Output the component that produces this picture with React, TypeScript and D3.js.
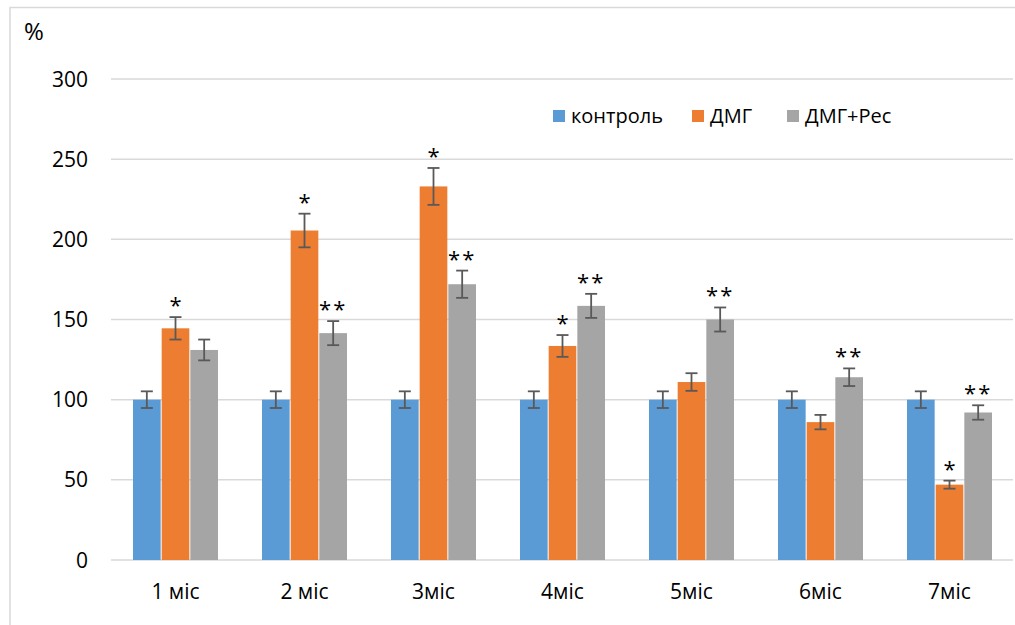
import * as d3 from 'd3';

const categories = ['1 міс', '2 міс', '3міс', '4міс', '5міс', '6міс', '7міс'];
const seriesNames = ['контроль', 'ДМГ', 'ДМГ+Рес'];
const colors = ['#5b9bd5', '#ed7d31', '#a5a5a5'];

// values per series, one per month
const control = [100, 100, 100, 100, 100, 100, 100];
const dmg = [144.5, 205.5, 233, 133.5, 111, 86, 47];
const dmgRes = [131, 141.5, 172, 158.5, 150, 114, 92];

// error half-widths
const controlErr = [5.2, 5.2, 5.2, 5.2, 5.2, 5.2, 5.2];
const dmgErr = [7, 10.5, 11.5, 6.8, 5.5, 4.5, 2.5];
const dmgResErr = [6.5, 7.5, 8.5, 7.5, 7.5, 5.5, 4.5];

// significance marks
const dmgStars = ['*', '*', '*', '*', '', '', '*'];
const dmgResStars = ['', '**', '**', '**', '**', '**', '**'];

const yTicks = [0, 50, 100, 150, 200, 250, 300];

const W = 1015;
const H = 625;
const margin = { left: 111, right: 1, top: 79, bottom: 65 };
const font = "'Open Sans', 'Liberation Sans', sans-serif";

export default function App() {
	const x0 = d3
		.scaleBand<string>()
		.domain(categories)
		.range([margin.left, W - margin.right])
		.paddingInner(1 / 3)
		.paddingOuter(1 / 6);
	const x1 = d3.scaleBand<number>().domain([0, 1, 2]).range([0, x0.bandwidth()]);
	const y = d3.scaleLinear().domain([0, 300]).range([H - margin.bottom, margin.top]);

	const values = [control, dmg, dmgRes];
	const errs = [controlErr, dmgErr, dmgResErr];
	const stars = [null, dmgStars, dmgResStars];

	return (
		<svg
			width={W}
			height={H}
			style={{ position: 'absolute', left: 0, top: 0, background: '#fff' }}
			fontFamily={font}
		>
			{/* chart frame */}
			<rect x={10} y={7.5} width={W + 10} height={H + 10} fill="none" stroke="#d9d9d9" strokeWidth={1.5} />

			{yTicks.map((t) => (
				<g key={t}>
					<line
						x1={margin.left}
						x2={W - 2}
						y1={y(t)}
						y2={y(t)}
						stroke="#d9d9d9"
						strokeWidth={1.5}
					/>
					<text x={88} y={y(t)} dy="0.36em" textAnchor="end" fontSize={21} fill="#000">
						{t}
					</text>
				</g>
			))}

			<text x={24} y={40} fontSize={24} fill="#000">
				%
			</text>

			{categories.map((c, i) => (
				<g key={c} transform={`translate(${x0(c)},0)`}>
					{values.map((vals, s) => {
						const bx = x1(s)!;
						const bw = x1.bandwidth();
						const cx = bx + bw / 2;
						const v = vals[i];
						const e = errs[s][i];
						const star = stars[s] ? stars[s]![i] : '';
						return (
							<g key={s}>
								<rect
									x={bx + 0.5}
									y={y(v)}
									width={bw - 1}
									height={y(0) - y(v)}
									fill={colors[s]}
								/>
								<line x1={cx} x2={cx} y1={y(v + e)} y2={y(v - e)} stroke="#595959" strokeWidth={1.8} />
								<line x1={cx - 6} x2={cx + 6} y1={y(v + e)} y2={y(v + e)} stroke="#595959" strokeWidth={1.8} />
								<line x1={cx - 6} x2={cx + 6} y1={y(v - e)} y2={y(v - e)} stroke="#595959" strokeWidth={1.8} />
								{star && (
									<text
										x={cx}
										y={y(v + e) - 4}
										textAnchor="middle"
										fontSize={22}
										fill="#000"
										letterSpacing={star.length > 1 ? 2 : 0}
									>
										{star}
									</text>
								)}
							</g>
						);
					})}
					<text
						x={x0.bandwidth() / 2}
						y={599}
						textAnchor="middle"
						fontSize={21}
						fill="#000"
					>
						{c}
					</text>
				</g>
			))}

			{/* legend */}
			{seriesNames.map((n, s) => {
				const lx = [553, 692, 787][s];
				return (
					<g key={n} transform={`translate(${lx},110)`}>
						<rect x={0} y={0} width={12} height={12} fill={colors[s]} />
						<text x={18} y={6} dy="0.36em" fontSize={20} fill="#000">
							{n}
						</text>
					</g>
				);
			})}
		</svg>
	);
}
